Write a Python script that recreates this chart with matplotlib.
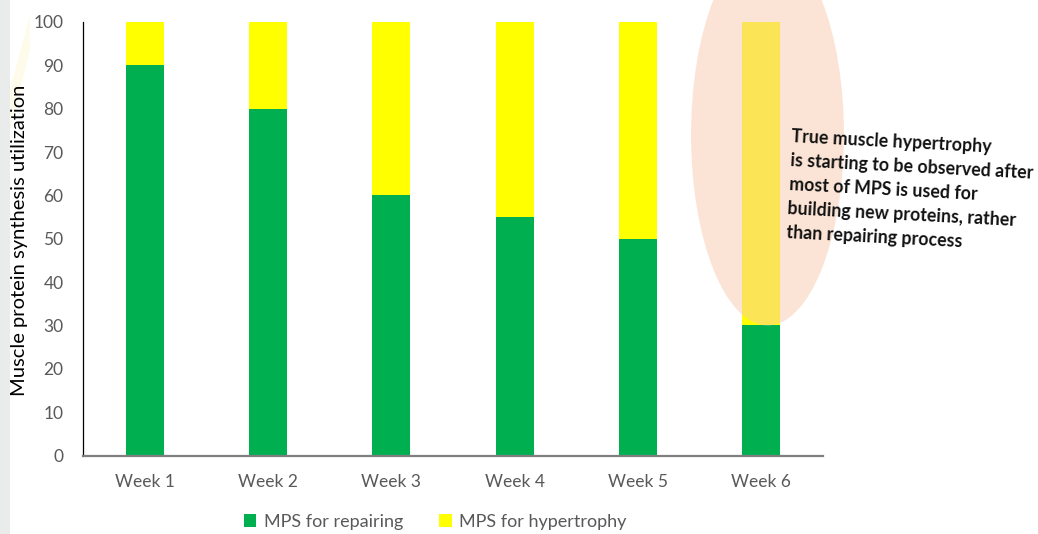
import matplotlib
matplotlib.use("Agg")
import matplotlib.pyplot as plt
from matplotlib.patches import Ellipse, Rectangle, Polygon
import numpy as np

categories = ["Week 1", "Week 2", "Week 3", "Week 4", "Week 5", "Week 6"]
repairing = [90, 80, 60, 55, 50, 30]
hypertrophy = [10, 20, 40, 45, 50, 70]
series_names = ["MPS for repairing", "MPS for hypertrophy"]
y_ticks = [0, 10, 20, 30, 40, 50, 60, 70, 80, 90, 100]
annotation = ("True muscle hypertrophy\nis starting to be observed after\n"
              "most of MPS is used for\nbuilding new proteins, rather\n"
              "than repairing process")
ylabel = "Muscle protein synthesis utilization"

plt.rcParams['font.family'] = ['Lato', 'DejaVu Sans']

W, H = 1038, 534
fig = plt.figure(figsize=(W / 100, H / 100), dpi=100)
fig.patch.set_facecolor("white")

# faint left decorative band
fig.patches.append(Rectangle((0, 0), 10 / W, 1, transform=fig.transFigure,
                             facecolor="#E9ECEA", edgecolor="none", zorder=0))
fig.patches.append(Polygon([(10 / W, 1 - 130 / H), (30 / W, 1 - 50 / H),
                            (30 / W, 1 - 15 / H), (10 / W, 1 - 90 / H)],
                           closed=True, transform=fig.transFigure,
                           facecolor="#FFFBEA", edgecolor="none", zorder=0))

ax = fig.add_axes([83 / W, (H - 455.5) / H, (823 - 83) / W, (455.5 - 22) / H])
x = np.arange(len(categories))
green = "#00B050"
yellow = "#FFFF00"
bw = 0.31
ax.bar(x, repairing, width=bw, color=green, label=series_names[0], zorder=2)
ax.bar(x, hypertrophy, width=bw, bottom=repairing, color=yellow,
       label=series_names[1], zorder=2)

ax.set_xlim(-0.5, len(categories) - 0.5)
ax.set_ylim(0, 100)
ax.set_yticks(y_ticks)
ax.set_xticks(x)
ax.set_xticklabels(categories)
ax.tick_params(axis="both", length=0, labelsize=12.5, colors="#595959")
ax.tick_params(axis="x", pad=13)
ax.tick_params(axis="y", pad=14)
ax.spines["top"].set_visible(False)
ax.spines["right"].set_visible(False)
ax.spines["left"].set_color("#000000")
ax.spines["left"].set_linewidth(0.9)
ax.spines["bottom"].set_color("#7F7F7F")
ax.spines["bottom"].set_linewidth(1.6)

fig.text(20 / W, (H - 240) / H, ylabel, fontsize=14.5, color="#000000",
         rotation=90, ha="center", va="center")

# highlight ellipse around Week 6
last = len(categories) - 1
ell = Ellipse((last + 0.05, 74), width=1.24, height=88, facecolor="#F8CBAD",
              edgecolor="none", alpha=0.5, zorder=3, clip_on=False)
ax.add_patch(ell)

fig.text(792 / W, (H - 128) / H, annotation, fontsize=12.8, fontweight="bold",
         color="#111111", ha="left", va="top", rotation=-3,
         rotation_mode="anchor", linespacing=1.5)

handles, labels = ax.get_legend_handles_labels()
fig.legend(handles, labels, loc="center", bbox_to_anchor=(435 / W, 12 / H),
           ncol=2, frameon=False, fontsize=13, handlelength=0.7,
           handleheight=0.7, handletextpad=0.4, columnspacing=2.0,
           labelcolor="#595959")

fig.savefig("out.png", dpi=100)
